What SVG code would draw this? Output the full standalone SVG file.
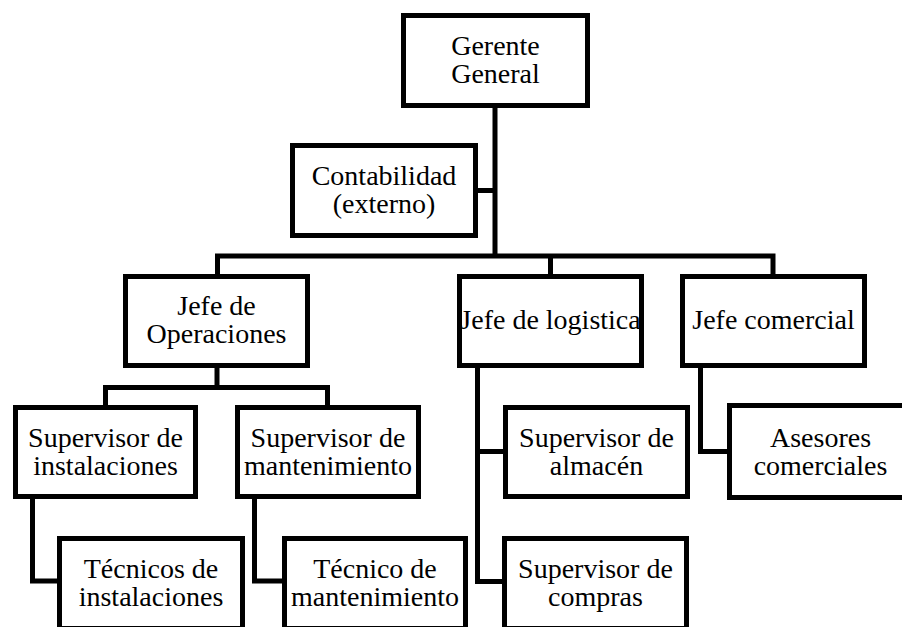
<svg xmlns="http://www.w3.org/2000/svg" width="902" height="627" viewBox="0 0 902 627">
<style>
.box{fill:#fff;stroke:#000;stroke-width:5;stroke-linejoin:miter}
.ln{fill:none;stroke:#000;stroke-width:5;stroke-linejoin:miter;stroke-linecap:butt}
text{font-family:"Liberation Serif","Times New Roman",serif;font-size:28px;fill:#000;text-anchor:middle}
</style>
<rect width="902" height="627" fill="#fff"/>
<g id="connectors">
<path class="ln" d="M495 105.5V256"/>
<path class="ln" d="M475.5 190.5H495"/>
<path class="ln" d="M217.5 276.5V256H773V276.5"/>
<path class="ln" d="M550.5 256V276.5"/>
<path class="ln" d="M217 365.5V387.5"/>
<path class="ln" d="M105.5 407.5V387.5H327.5V407.5"/>
<path class="ln" d="M32.5 496.5V581H59.5"/>
<path class="ln" d="M254.5 496.5V581H284.5"/>
<path class="ln" d="M477.5 365.5V581.5H504.5"/>
<path class="ln" d="M477.5 451.5H505.5"/>
<path class="ln" d="M700.5 365.5V451.5H729.5"/>
</g>
<g id="gerente"><rect class="box" x="403.5" y="15.5" width="184" height="90"/><text x="495.5" y="54.5">Gerente</text><text x="495.5" y="82.5">General</text></g>
<g id="contabilidad"><rect class="box" x="292.5" y="145.5" width="183" height="90"/><text x="384" y="184.5">Contabilidad</text><text x="384" y="212.5">(externo)</text></g>
<g id="jefe-operaciones"><rect class="box" x="125.5" y="276.5" width="182" height="89"/><text x="216.5" y="315">Jefe de</text><text x="216.5" y="343">Operaciones</text></g>
<g id="jefe-logistica"><rect class="box" x="459.5" y="276.5" width="182" height="89"/><text x="550.5" y="329">Jefe de logistica</text></g>
<g id="jefe-comercial"><rect class="box" x="682.5" y="276.5" width="182" height="89"/><text x="773.5" y="329">Jefe comercial</text></g>
<g id="sup-instalaciones"><rect class="box" x="15.5" y="407.5" width="180" height="89"/><text x="105.5" y="446.5">Supervisor de</text><text x="105.5" y="474.5">instalaciones</text></g>
<g id="sup-mantenimiento"><rect class="box" x="237.5" y="407.5" width="181" height="89"/><text x="328" y="446.5">Supervisor de</text><text x="328" y="474.5">mantenimiento</text></g>
<g id="sup-almacen"><rect class="box" x="505.5" y="407.5" width="182" height="89"/><text x="596.5" y="446.5">Supervisor de</text><text x="596.5" y="474.5">almacén</text></g>
<g id="asesores"><rect class="box" x="729.5" y="405.5" width="182" height="92"/><text x="820.5" y="446.5">Asesores</text><text x="820.5" y="474.5">comerciales</text></g>
<g id="tecnicos-instalaciones"><rect class="box" x="59.5" y="538.5" width="183" height="90"/><text x="151" y="577.5">Técnicos de</text><text x="151" y="605.5">instalaciones</text></g>
<g id="tecnico-mantenimiento"><rect class="box" x="284.5" y="538.5" width="181" height="90"/><text x="375" y="577.5">Técnico de</text><text x="375" y="605.5">mantenimiento</text></g>
<g id="sup-compras"><rect class="box" x="504.5" y="538.5" width="182" height="90"/><text x="595.5" y="577.5">Supervisor de</text><text x="595.5" y="605.5">compras</text></g>
</svg>
